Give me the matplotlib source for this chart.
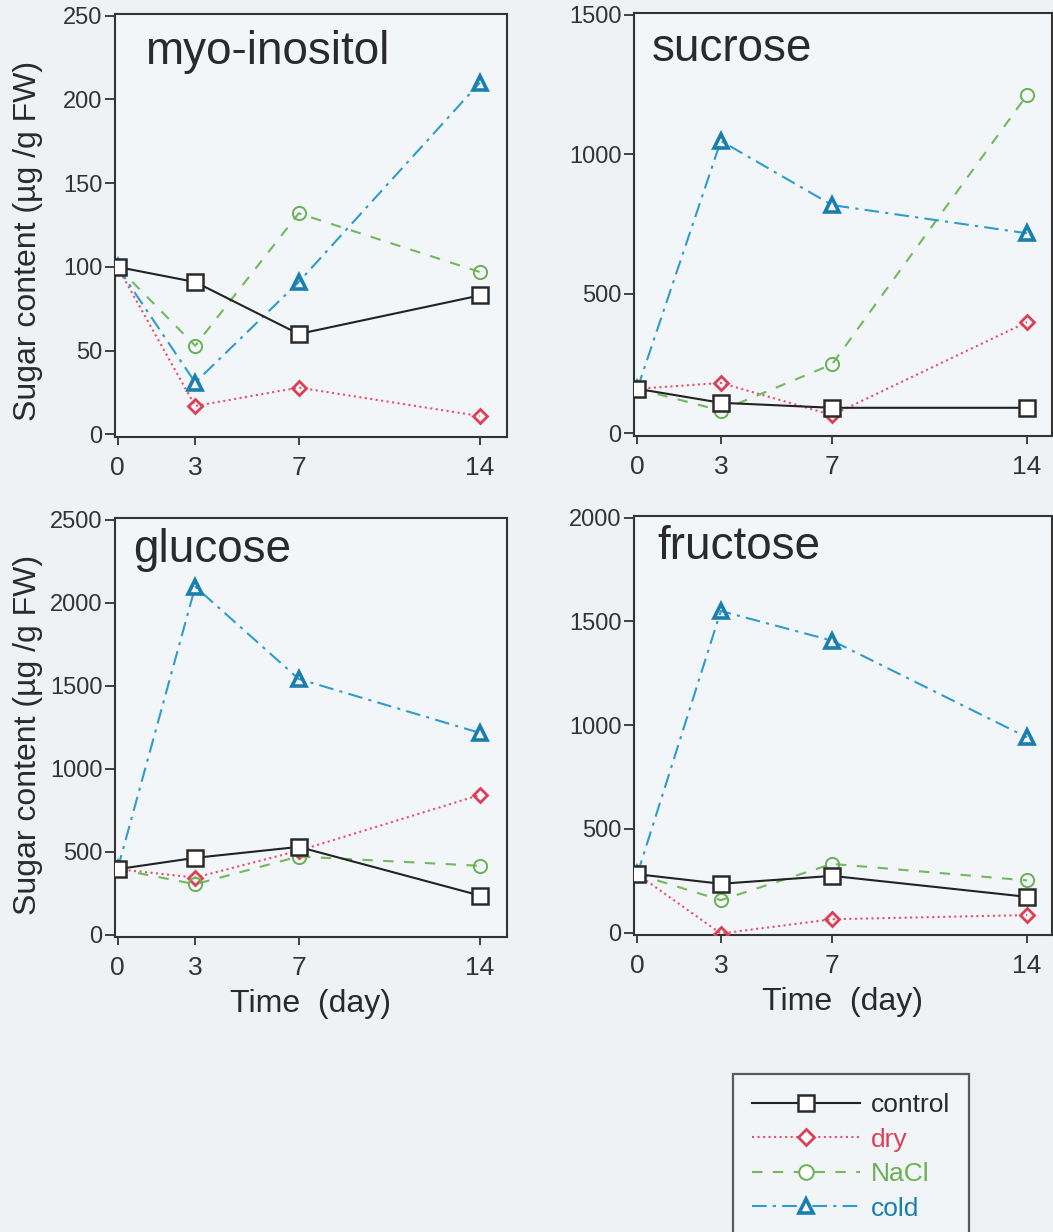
import matplotlib.pyplot as plt
from matplotlib.lines import Line2D

plt.rcParams['font.family'] = ['Liberation Sans', 'DejaVu Sans']

# Sampling days
days = [0, 3, 7, 14]

# Sugar content (ug/g FW)
myo_control = [100, 91, 60, 83]
myo_dry = [100, 17, 28, 11]
myo_nacl = [100, 53, 132, 97]
myo_cold = [100, 31, 91, 210]

suc_control = [160, 110, 92, 92]
suc_dry = [160, 181, 66, 399]
suc_nacl = [160, 82, 248, 1212]
suc_cold = [160, 1048, 818, 717]

glu_control = [394, 462, 528, 235]
glu_dry = [394, 343, 505, 841]
glu_nacl = [394, 303, 470, 414]
glu_cold = [394, 2096, 1540, 1215]

fru_control = [281, 235, 273, 172]
fru_dry = [281, -5, 64, 84]
fru_nacl = [281, 156, 331, 251]
fru_cold = [281, 1550, 1407, 941]

sugars = ["myo-inositol", "sucrose", "glucose", "fructose"]
ymax = [250, 1500, 2500, 2000]
yticks = [[0, 50, 100, 150, 200, 250],
          [0, 500, 1000, 1500],
          [0, 500, 1000, 1500, 2000, 2500],
          [0, 500, 1000, 1500, 2000]]
data = {
    "myo-inositol": [myo_control, myo_dry, myo_nacl, myo_cold],
    "sucrose": [suc_control, suc_dry, suc_nacl, suc_cold],
    "glucose": [glu_control, glu_dry, glu_nacl, glu_cold],
    "fructose": [fru_control, fru_dry, fru_nacl, fru_cold],
}

treatments = ["control", "dry", "NaCl", "cold"]
line_colors = ["#222222", "#e8506a", "#72b85e", "#2e9ccc"]
marker_colors = ["#2a2a2a", "#dc4058", "#6ab054", "#1a7fae"]
styles = ["-", ":", (0, (5, 5)), (0, (7, 3, 1.5, 3))]
markers = ["s", "D", "o", "^"]
msizes = [11, 7, 9.5, 9.5]
mews = [1.8, 2.0, 1.4, 2.6]

W, H = 1053, 1232
bg = "#eef2f5"
fig = plt.figure(figsize=(W / 100, H / 100), dpi=100, facecolor=bg)

# axes boxes in pixels: left, top, right, bottom
boxes = [(115, 14, 507, 437), (634, 13, 1052, 436),
         (115, 518, 507, 937), (634, 516, 1052, 935)]
xlims = [(-0.1, 15.05), (-0.12, 14.9), (-0.1, 15.05), (-0.12, 14.9)]
title_pos = [(0.077, 0.91), (0.042, 0.915), (0.046, 0.924), (0.057, 0.926)]

for i, sugar in enumerate(sugars):
    l, t, r, b = boxes[i]
    ax = fig.add_axes([l / W, 1 - b / H, (r - l) / W, (b - t) / H])
    ax.set_facecolor("#f3f6f8")
    for j, vals in enumerate(data[sugar]):
        ax.plot(days, vals, linestyle=styles[j], color=line_colors[j], lw=1.5,
                marker=markers[j], markersize=msizes[j], markerfacecolor="none" if j else "white",
                markeredgecolor=marker_colors[j], markeredgewidth=mews[j], zorder=3 + (j == 0))
    ax.set_xlim(*xlims[i])
    ax.set_ylim(-0.006 * ymax[i], 1.004 * ymax[i])
    ax.set_xticks(days)
    ax.set_yticks(yticks[i])
    ax.tick_params(axis="y", direction="out", length=7, width=1.3, pad=2,
                   labelsize=17, colors="#333333")
    ax.tick_params(axis="x", direction="out", length=6, width=1.3, pad=8,
                   labelsize=19, colors="#333333")
    for s in ax.spines.values():
        s.set_linewidth(1.5)
        s.set_color("#333333")
    ax.text(title_pos[i][0], title_pos[i][1], sugar, transform=ax.transAxes,
            fontsize=33, color="#2a2a2a", ha="left", va="center")
    if i >= 2:
        ax.set_xlabel("Time  (day)", fontsize=23, color="#2a2a2a", labelpad=6)

fig.text(28 / W, 1 - 241 / H, "Sugar content (µg /g FW)", rotation=90,
         ha="center", va="center", fontsize=23, color="#2a2a2a")
fig.text(28 / W, 1 - 735 / H, "Sugar content (µg /g FW)", rotation=90,
         ha="center", va="center", fontsize=23, color="#2a2a2a")

handles = [Line2D([0], [0], linestyle=styles[j], color=line_colors[j], lw=1.5,
                  marker=markers[j], markersize=msizes[j] + 1,
                  markerfacecolor="white", markeredgecolor=marker_colors[j],
                  markeredgewidth=mews[j])
           for j in range(4)]
leg = fig.legend(handles, treatments, loc="upper left",
                 bbox_to_anchor=(733 / W, 1 - 1074 / H), borderaxespad=0,
                 fontsize=19, handlelength=4.1, handletextpad=0.4,
                 labelspacing=0.4, borderpad=0.72, frameon=True, fancybox=False,
                 facecolor="#f3f6f8", edgecolor="#333333")
leg.get_frame().set_linewidth(1.6)
for txt, c in zip(leg.get_texts(), marker_colors):
    txt.set_color(c)

fig.savefig("out.png", dpi=100, facecolor=bg)
